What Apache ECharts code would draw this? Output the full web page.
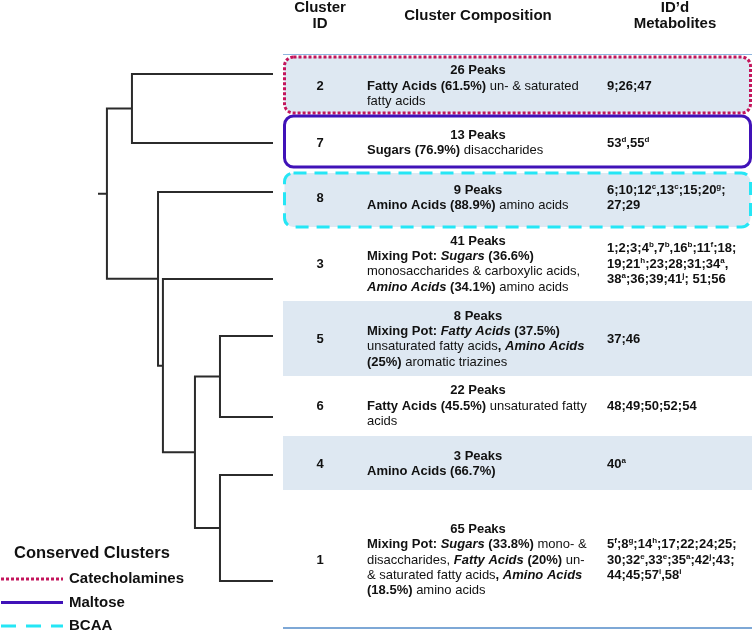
<!DOCTYPE html>
<html><head><meta charset="utf-8">
<script src="https://cdn.jsdelivr.net/npm/echarts@6/dist/echarts.min.js"></script>
<style>html,body{margin:0;padding:0;background:#fff}#c{width:753px;height:632px}</style>
</head><body><div id="c"></div>
<script>
// ---------------- DATA ----------------
const headers = { id: ['Cluster', 'ID'], comp: ['Cluster Composition'], met: ['ID\u2019d', 'Metabolites'] };
const clusterIds = ['2', '7', '8', '3', '5', '6', '4', '1'];
const peakCounts = [26, 13, 9, 41, 8, 22, 3, 65];
const compositionLines = [
  ['{b|Fatty Acids (61.5%)} un- & saturated', 'fatty acids'],
  ['{b|Sugars (76.9%)} disaccharides'],
  ['{b|Amino Acids (88.9%)} amino acids'],
  ['{b|Mixing Pot: }{bi|Sugars}{b| (36.6%)}', 'monosaccharides & carboxylic acids,', '{bi|Amino Acids}{b| (34.1%)} amino acids'],
  ['{b|Mixing Pot: }{bi|Fatty Acids}{b| (37.5%)}', 'unsaturated fatty acids{b|, }{bi|Amino Acids}', '{b|(25%)} aromatic triazines'],
  ['{b|Fatty Acids (45.5%)} unsaturated fatty', 'acids'],
  ['{b|Amino Acids (66.7%)}'],
  ['{b|Mixing Pot: }{bi|Sugars}{b| (33.8%)} mono- &', 'disaccharides, {bi|Fatty Acids}{b| (20%)} un-', '& saturated fatty acids{b|, }{bi|Amino Acids}', '{b|(18.5%)} amino acids']
];
const metaboliteLines = [
  ['9;26;47'],
  ['53{s|d},55{s|d}'],
  ['6;10;12{s|c},13{s|c};15;20{s|g};', '27;29'],
  ['1;2;3;4{s|b},7{s|b},16{s|b};11{s|f};18;', '19;21{s|h};23;28;31;34{s|a},', '38{s|a};36;39;41{s|j}; 51;56'],
  ['37;46'],
  ['48;49;50;52;54'],
  ['40{s|a}'],
  ['5{s|f};8{s|g};14{s|h};17;22;24;25;', '30;32{s|e},33{s|e};35{s|a};42{s|j};43;', '44;45;57{s|i},58{s|i}']
];
// dendrogram linkage (merge order): [childA, childB, distance]; 'nK' = K-th merge
const linkage = [
  ['2', '7', 0.806],
  ['5', '6', 0.303],
  ['4', '1', 0.303],
  ['n1', 'n2', 0.446],
  ['3', 'n3', 0.629],
  ['8', 'n4', 0.657],
  ['n0', 'n5', 0.949]
];
const rootDistance = 1.0;
const conservedNames = ['Catecholamines', 'Maltose', 'BCAA'];
const conservedClusterIds = ['2', '7', '8'];
const shadedClusterIds = ['2', '8', '5', '4'];

// ---------------- LAYOUT ----------------
const W = 753, H = 632;
const leafY = [74, 143, 192, 279, 336, 417, 475, 581];     // leaf rows of the tree (y units = px)
const rowCenter = [86, 143, 198, 264, 339, 406, 464, 560];
const rowBand = [[57, 113], [116, 167], [173, 227], null, [301, 376], null, [436, 490], null];
const tableLeft = 283, tableRight = 752;
const lineH = 15.3;
const FONT = '"Liberation Sans", Arial, Helvetica, sans-serif';
const styles = {
  Catecholamines: { color: '#c4155c', dash: [3, 2], legendDash: [3, 2] },
  Maltose: { color: '#4012b8', dash: null, legendDash: null },
  BCAA: { color: '#25e6f5', dash: [13, 8], legendDash: [15, 10] }
};
const shade = '#dee8f2';
const ink = '#111';

// ---- dendrogram geometry from linkage ----
const pos = {};
clusterIds.forEach((id, i) => { pos[id] = { d: 0, y: leafY[i] }; });
const segs = [];
linkage.forEach((m, k) => {
  const a = pos[m[0]], b = pos[m[1]];
  segs.push([m[2], a.y, b.y, a.d, b.d]);
  pos['n' + k] = { d: m[2], y: (a.y + b.y) / 2 };
});
const root = pos['n' + (linkage.length - 1)];
segs.push([rootDistance, root.y, root.y, root.d, root.d]);

// ---- table graphics ----
const g = [];
const rich = {
  b: { fontWeight: 'bold', fontSize: 13, fontFamily: FONT, fill: ink, lineHeight: 15 },
  bi: { fontWeight: 'bold', fontStyle: 'italic', fontSize: 13, fontFamily: FONT, fill: ink, lineHeight: 15 },
  s: { fontWeight: 'bold', fontSize: 8, fontFamily: FONT, fill: ink, verticalAlign: 'top', lineHeight: 15 }
};
function txt(x, y, text, opt) {
  g.push(Object.assign({ type: 'text', x: x, y: y, z: 10, style: Object.assign({
    text: text, fill: ink, font: '13px ' + FONT, textAlign: 'left', textVerticalAlign: 'middle', rich: rich
  }, opt || {}) }));
}
// header
const HF = 'bold 15px ' + FONT;
txt(320, 8, headers.id[0], { font: HF, textAlign: 'center' });
txt(320, 24, headers.id[1], { font: HF, textAlign: 'center' });
txt(478, 16, headers.comp[0], { font: HF, textAlign: 'center' });
txt(675, 8, headers.met[0], { font: HF, textAlign: 'center' });
txt(675, 24, headers.met[1], { font: HF, textAlign: 'center' });
// separators
g.push({ type: 'line', shape: { x1: tableLeft, y1: 54.5, x2: tableRight, y2: 54.5 }, style: { stroke: '#8db5df', lineWidth: 1 } });
g.push({ type: 'line', shape: { x1: tableLeft, y1: 628, x2: tableRight, y2: 628 }, style: { stroke: '#7ea8d6', lineWidth: 2 } });

clusterIds.forEach((id, i) => {
  const band = rowBand[i];
  const ci = conservedClusterIds.indexOf(id);
  if (band) {
    const shaded = shadedClusterIds.indexOf(id) >= 0;
    if (ci >= 0) {
      const st = styles[conservedNames[ci]];
      g.push({ type: 'rect', z: 2, shape: { x: tableLeft + 1.5, y: band[0], width: tableRight - tableLeft - 3, height: band[1] - band[0], r: 9 },
        style: { fill: shaded ? shade : '#fff', stroke: st.color, lineWidth: 3, lineDash: st.dash } });
    } else if (shaded) {
      g.push({ type: 'rect', z: 1, shape: { x: tableLeft, y: band[0], width: tableRight - tableLeft, height: band[1] - band[0] },
        style: { fill: shade } });
    }
  }
  const comp = compositionLines[i];
  const n = comp.length + 1;
  const y0 = rowCenter[i] - (n - 1) * lineH / 2;
  txt(478, y0, peakCounts[i] + ' Peaks', { font: 'bold 13px ' + FONT, textAlign: 'center' });
  comp.forEach((ln, j) => txt(367, y0 + (j + 1) * lineH, ln));
  txt(320, rowCenter[i], id, { font: 'bold 13px ' + FONT, textAlign: 'center' });
  const met = metaboliteLines[i];
  const m0 = rowCenter[i] - (met.length - 1) * lineH / 2;
  met.forEach((ln, j) => txt(607, m0 + j * lineH, ln, { font: 'bold 13px ' + FONT }));
});

// legend
txt(14, 553, 'Conserved Clusters', { font: 'bold 16.5px ' + FONT });
conservedNames.forEach((nm, i) => {
  const y = 579 + i * 23.5;
  const st = styles[nm];
  g.push({ type: 'line', shape: { x1: 1, y1: y, x2: 63, y2: y }, style: { stroke: st.color, lineWidth: 3, lineDash: st.legendDash } });
  txt(69, y, nm, { font: 'bold 15px ' + FONT });
});

const chart = echarts.init(document.getElementById('c'), null, { renderer: 'canvas', width: W, height: H });
chart.setOption({
  animation: false,
  backgroundColor: '#fff',
  grid: { left: 98, right: W - 273, top: 0, bottom: 0 },
  xAxis: { type: 'value', min: 0, max: rootDistance, inverse: true, show: false },
  yAxis: { type: 'value', min: 0, max: H, inverse: true, show: false },
  series: [{
    type: 'custom',
    clip: false,
    encode: { x: [0, 3, 4], y: [1, 2] },
    data: segs,
    renderItem: function (params, api) {
      const D = api.value(0), ya = api.value(1), yb = api.value(2), da = api.value(3), db = api.value(4);
      const pts = [api.coord([da, ya]), api.coord([D, ya]), api.coord([D, yb]), api.coord([db, yb])];
      return { type: 'polyline', shape: { points: pts }, style: { stroke: '#2b2b2b', lineWidth: 2, fill: null, lineJoin: 'miter' } };
    }
  }],
  graphic: g
});
</script>
</body></html>
